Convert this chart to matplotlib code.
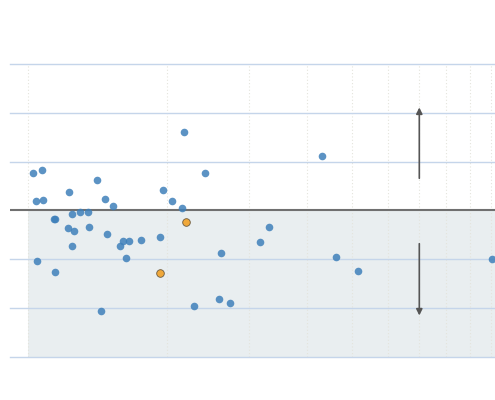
import numpy as np
import matplotlib.pyplot as plt

# data (x on log scale 1..10, y from -3 to 3)
blue_x = [1.027, 1.072, 1.039, 1.076, 1.136, 1.142, 1.226, 1.407, 1.245, 1.295,
          1.350, 1.466, 1.524, 1.954, 2.050, 2.148, 2.176, 2.408, 1.218, 1.255,
          1.354, 1.246, 1.481, 1.602, 1.655, 1.578, 1.752, 1.928, 1.626, 1.047,
          1.145, 1.438, 2.287, 2.585, 2.731, 2.608, 3.311, 3.170, 4.633, 5.169,
          10.03, 4.309]
blue_y = [0.764, 0.834, 0.190, 0.225, -0.165, -0.175, 0.383, 0.615, -0.068, -0.035,
          -0.027, 0.240, 0.096, 0.410, 0.190, 0.055, 1.604, 0.773, -0.355, -0.424,
          -0.348, -0.732, -0.486, -0.629, -0.629, -0.732, -0.609, -0.547, -0.963, -1.031,
          -1.264, -2.064, -1.947, -1.818, -1.891, -0.867, -0.348, -0.650, -0.957, -1.236,
          -0.984, 1.121]
orange_x = [2.198, 1.928]
orange_y = [-0.240, -1.285]

arrow_x = 7
up_arrow = (0.66, 2.11)
down_arrow = (-0.68, -2.15)

fig = plt.figure(figsize=(4.95, 4.0), dpi=100)
ax = fig.add_axes([10 / 495, 43 / 400, 485 / 495, 293 / 400])
ax.set_xscale('log')
ax.set_xlim(0.914, 10.2)
ax.set_ylim(-3, 3)

# shaded lower half
ax.fill_between([1, 10.2], -3, 0, color='#e9eef0', zorder=0, lw=0)

# grid
for v in range(1, 11):
    ax.axvline(v, color='#e4e4dc', lw=0.8, ls=(0, (1, 2)), zorder=1)
for h in [-3, -2, -1, 1, 2, 3]:
    ax.axhline(h, color='#c5d5ea', lw=1.0, zorder=1, clip_on=False)
ax.axhline(0, color='#707070', lw=1.5, zorder=2)

ax.scatter(blue_x, blue_y, s=30, color='#3f80ba', alpha=0.85, lw=0, zorder=3)
ax.scatter(orange_x, orange_y, s=30, color='#f0a83a', edgecolor='#6b5a40',
           lw=0.6, zorder=4)

ax.annotate('', xy=(arrow_x, up_arrow[1]), xytext=(arrow_x, up_arrow[0]),
            arrowprops=dict(arrowstyle='-|>', color='#555555', lw=1.2,
                            mutation_scale=9, shrinkA=0, shrinkB=0))
ax.annotate('', xy=(arrow_x, down_arrow[1]), xytext=(arrow_x, down_arrow[0]),
            arrowprops=dict(arrowstyle='-|>', color='#555555', lw=1.2,
                            mutation_scale=9, shrinkA=0, shrinkB=0))

for s in ax.spines.values():
    s.set_visible(False)
ax.set_xticks([])
ax.set_yticks([])
ax.minorticks_off()

fig.savefig('out.png', dpi=100)
